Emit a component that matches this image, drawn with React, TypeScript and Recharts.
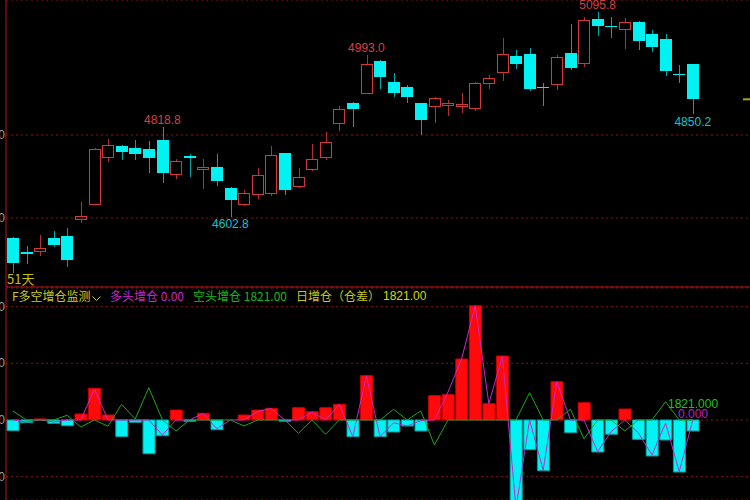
import React from 'react'
import {
  ComposedChart,
  Bar,
  Line,
  XAxis,
  YAxis,
  CartesianGrid,
  ReferenceDot,
  ReferenceLine,
  Cell,
} from 'recharts'

// daily candles, 51 sessions
const openPrices = [
  4551.1, 4518.8, 4521.2, 4551.1, 4556.6, 4596.9, 4633.7, 4746.3, 4772.8, 4768.0,
  4766.3, 4788.0, 4705.3, 4749.4, 4718.8, 4723.6, 4673.0, 4633.7, 4657.8, 4661.0,
  4755.9, 4677.8, 4718.8, 4747.7, 4828.2, 4877.8, 4900.5, 4979.0, 4927.7, 4916.4,
  4876.4, 4869.9, 4873.0, 4869.2, 4864.3, 4924.6, 4952.5, 4991.1, 4994.5, 4916.4,
  4922.2, 4998.3, 4972.8, 5078.8, 5063.4, 5056.1, 5073.0, 5044.1, 5030.6, 4947.0,
  4970.4,
]
const highPrices = [
  4553.0, 4533.3, 4558.3, 4569.4, 4575.9, 4639.3, 4768.0, 4789.6, 4775.9, 4788.0,
  4785.5, 4818.8, 4742.9, 4754.2, 4741.4, 4753.5, 4674.0, 4667.5, 4719.8, 4773.5,
  4756.5, 4719.8, 4778.3, 4808.0, 4869.9, 4879.5, 4993.0, 4980.0, 4950.1, 4920.5,
  4877.0, 4890.8, 4883.6, 4901.9, 4927.0, 4943.9, 5033.0, 5004.8, 5008.9, 4924.6,
  4992.8, 5067.5, 5083.6, 5095.8, 5083.6, 5081.2, 5075.4, 5053.0, 5042.6, 4968.7,
  4971.0,
]
const lowPrices = [
  4467.5, 4489.2, 4509.2, 4530.8, 4481.2, 4588.7, 4632.5, 4734.2, 4739.8, 4739.8,
  4709.2, 4685.1, 4694.7, 4699.5, 4669.9, 4677.8, 4602.8, 4629.6, 4645.1, 4653.0,
  4654.7, 4671.6, 4713.3, 4739.8, 4810.4, 4818.6, 4899.5, 4910.8, 4892.3, 4877.8,
  4800.7, 4828.2, 4845.8, 4853.7, 4858.6, 4910.8, 4930.1, 4959.0, 4906.7, 4870.6,
  4908.4, 4955.9, 4964.6, 5039.3, 5034.5, 5008.0, 5004.8, 5000.7, 4942.2, 4924.6,
  4850.2,
]
const closePrices = [
  4490.8, 4512.5, 4527.0, 4534.9, 4498.8, 4604.8, 4766.3, 4775.9, 4759.0, 4754.9,
  4743.9, 4707.7, 4737.4, 4743.9, 4723.6, 4689.9, 4643.4, 4659.5, 4704.3, 4751.8,
  4666.7, 4698.1, 4742.9, 4783.1, 4861.9, 4863.4, 4970.4, 4940.5, 4900.5, 4892.3,
  4836.1, 4889.2, 4876.4, 4874.0, 4926.0, 4937.3, 4995.2, 4971.1, 4910.1, 4913.3,
  4987.2, 4962.2, 5077.1, 5063.4, 5061.0, 5071.6, 5026.5, 5012.8, 4953.5, 4944.6,
  4886.0,
]

// 日增仓 bars, 多头增仓 (magenta) and 空头增仓 (green) lines
const oiChange = [
  -189, -48, 18, -58, -101, 106, 559, 88, -295, -41,
  -595, -277, 176, -23, 118, -171, 0, 88, 176, 206,
  -23, 217, 146, 217, 277, -295, 782, -295, -212, -106,
  -194, 429, 447, 1076, 2015, 288, 1129, -1553, -524, -895,
  676, -224, 305, -565, -252, 194, -341, -635, -353, -918,
  -194,
]
const longAdd = [
  0, -35, 0, -35, 0, 0, 547, 0, 0, 0,
  0, -265, 0, 0, 115, -154, 0, 0, 150, 203,
  0, 0, 141, 0, 277, -295, 782, -295, -48, -106,
  -12, 0, 494, 1076, 2015, 291, 1121, -1553, 0, -888,
  676, 0, 0, -559, -206, 0, -229, -618, -53, -912,
  0,
]
const shortAdd = [
  159, 0, 0, 0, 83, -124, 0, -111, 277, 18,
  570, 0, -194, 0, 0, 0, 0, -106, 0, 0,
  0, -235, 0, -252, 0, 0, 0, 0, 189, 0,
  159, -441, 0, 0, 0, 0, 0, 0, 482, 0,
  0, 189, -335, 0, 0, -194, 0, 0, 323, 0,
  0,
]

// extremes that carry a price label
const priceMarks: { index: number; kind: 'high' | 'low' }[] = [
  { index: 11, kind: 'high' },
  { index: 16, kind: 'low' },
  { index: 26, kind: 'high' },
  { index: 43, kind: 'high' },
  { index: 50, kind: 'low' },
]

const priceTicks = [4600, 4800]
const oiTicks = [-1000, 0, 1000, 2000]

const periodLabel = '51天'
const indicatorName = 'F多空增仓监测'
const longLabel = '多头增仓'
const longValue = '0.00'
const shortLabel = '空头增仓'
const shortValue = '1821.00'
const dailyLabel = '日增仓（仓差）'
const dailyValue = '1821.00'
const shortEndLabel = '1821.000'
const longEndLabel = '0.000'

const UP = '#d23a3a'
const UP_WICK = '#b43030'
const DOWN = '#00f2f2'
const DOWN_WICK = '#00a6a6'
const GRID = '#8a1212'
const FRAME = '#b01818'
const YELLOW = '#c8c820'
const MAGENTA = '#c828c8'
const GREEN = '#1aa81a'
const NUM_FONT = '"Liberation Sans", Arial, sans-serif'
const CJK_FONT = '"Noto Sans CJK SC", "Liberation Sans", sans-serif'

const candles = openPrices.map((open, i) => ({
  day: i,
  open,
  high: highPrices[i],
  low: lowPrices[i],
  close: closePrices[i],
  range: [lowPrices[i], highPrices[i]],
}))

const flows = oiChange.map((oi, i) => ({
  day: i,
  oi,
  long: longAdd[i],
  short: shortAdd[i],
}))

const lastClose = closePrices[closePrices.length - 1]

const Candle = (props: any) => {
  const { x, y, width, height, payload } = props
  if (!payload) return null
  const { open, close, high, low } = payload
  const top = Math.min(y, y + height)
  const span = Math.abs(height)
  const py = (v: number) => (high === low ? top : top + ((high - v) / (high - low)) * span)
  const cx = Math.round(x + width / 2) + 0.5
  const left = Math.round(x)
  const w = Math.round(width)
  const yHigh = Math.round(top)
  const yLow = Math.round(top + span)
  const bodyTop = Math.round(py(Math.max(open, close)))
  const bodyBot = Math.round(py(Math.min(open, close)))

  if (close >= open) {
    const bodyH = bodyBot - bodyTop
    if (bodyH < 2) {
      return (
        <g>
          <line x1={cx} x2={cx} y1={yHigh} y2={yLow} stroke={UP_WICK} />
          <line x1={left} x2={left + w} y1={bodyTop + 0.5} y2={bodyTop + 0.5} stroke={UP} />
        </g>
      )
    }
    return (
      <g>
        <line x1={cx} x2={cx} y1={yHigh} y2={bodyTop} stroke={UP_WICK} />
        <line x1={cx} x2={cx} y1={bodyBot} y2={yLow} stroke={UP_WICK} />
        <rect x={left + 0.5} y={bodyTop + 0.5} width={w - 1} height={bodyH} fill="none" stroke={UP} />
      </g>
    )
  }
  return (
    <g>
      <line x1={cx} x2={cx} y1={yHigh} y2={yLow} stroke={DOWN_WICK} />
      <rect x={left} y={bodyTop} width={w} height={Math.max(bodyBot - bodyTop, 1)} fill={DOWN} />
    </g>
  )
}

// axis labels sit against the left edge, so only their last digit shows
const EdgeTick = (props: any) => (
  <text
    x={props.x}
    y={props.y}
    dy={4}
    textAnchor="end"
    fill="#9c9c9c"
    fontSize={12}
    fontFamily={NUM_FONT}
  >
    {props.payload.value}
  </text>
)

const LastPriceMark = (props: any) => (
  <line x1={props.x2 - 7} x2={props.x2} y1={props.y1} y2={props.y2} stroke="#a8a800" strokeWidth={2} />
)

const textStyle = (color: string, left: number, top: number, font = CJK_FONT): React.CSSProperties => ({
  position: 'absolute',
  left,
  top,
  color,
  fontSize: 12,
  lineHeight: '12px',
  fontFamily: font,
  whiteSpace: 'nowrap',
})

export default function App() {
  return (
    <div
      style={{
        position: 'fixed',
        left: 0,
        top: 0,
        width: 750,
        height: 500,
        background: '#000',
        overflow: 'hidden',
      }}
    >
      <ComposedChart width={750} height={288} data={candles} margin={{ top: 0, right: 0, bottom: 0, left: 0 }}>
        <CartesianGrid vertical={false} stroke={GRID} strokeDasharray="2 3" />
        <XAxis
          dataKey="day"
          height={1}
          tick={false}
          tickLine={false}
          axisLine={{ stroke: FRAME }}
          padding={{ left: 0, right: 50.4 }}
        />
        <YAxis
          width={6}
          domain={[4433.7, 5125.3]}
          ticks={priceTicks}
          allowDataOverflow
          tickSize={0}
          tickMargin={1}
          tickLine={false}
          axisLine={{ stroke: FRAME }}
          tick={<EdgeTick />}
        />
        <Bar dataKey="range" barSize={12} shape={<Candle />} isAnimationActive={false} />
        {priceMarks.map((m) => {
          const value = m.kind === 'high' ? highPrices[m.index] : lowPrices[m.index]
          return (
            <ReferenceDot
              key={m.index}
              x={m.index}
              y={value}
              r={0}
              fill="none"
              stroke="none"
              label={{
                value: value.toFixed(1),
                position: m.kind === 'high' ? 'top' : 'bottom',
                offset: 3,
                fill: m.kind === 'high' ? '#d84040' : '#1cc0cc',
                fontSize: 12,
                fontFamily: NUM_FONT,
              }}
            />
          )
        })}
        <ReferenceLine y={lastClose} shape={<LastPriceMark />} />
      </ComposedChart>

      <ComposedChart width={750} height={212} data={flows} margin={{ top: 0, right: 0, bottom: 0, left: 0 }}>
        <CartesianGrid vertical={false} stroke={GRID} strokeDasharray="2 3" />
        <XAxis dataKey="day" hide padding={{ left: 0, right: 50.4 }} />
        <YAxis
          width={6}
          domain={[-1412, 2329]}
          ticks={oiTicks}
          allowDataOverflow
          tickSize={0}
          tickMargin={1}
          tickLine={false}
          axisLine={{ stroke: FRAME }}
          tick={<EdgeTick />}
        />
        <Bar dataKey="oi" barSize={12} isAnimationActive={false}>
          {flows.map((d) => (
            <Cell
              key={d.day}
              fill={d.oi >= 0 ? '#ff0a0a' : '#00f4f4'}
              stroke={d.oi >= 0 ? '#d00000' : '#00a0a0'}
            />
          ))}
        </Bar>
        <Line type="linear" dataKey="long" stroke={MAGENTA} strokeWidth={1} dot={false} isAnimationActive={false} />
        <Line type="linear" dataKey="short" stroke={GREEN} strokeWidth={1} dot={false} isAnimationActive={false} />
      </ComposedChart>

      <div style={textStyle('#c8c000', 7, 273, CJK_FONT)}>
        <span style={{ fontSize: 13 }}>{periodLabel}</span>
      </div>

      <div style={textStyle(YELLOW, 12, 290)}>{indicatorName}</div>
      <svg style={{ position: 'absolute', left: 92, top: 296 }} width={9} height={6}>
        <polyline points="0.5,0.5 4.5,4.5 8.5,0.5" fill="none" stroke={YELLOW} />
      </svg>
      <div style={textStyle(MAGENTA, 110, 290)}>
        {longLabel} {longValue}
      </div>
      <div style={textStyle('#18b818', 193, 290)}>
        {shortLabel} {shortValue}
      </div>
      <div style={textStyle(YELLOW, 296, 290)}>{dailyLabel}</div>
      <div style={textStyle('#d8d800', 383, 290, NUM_FONT)}>{dailyValue}</div>

      <div style={textStyle('#20c020', 668, 398, NUM_FONT)}>{shortEndLabel}</div>
      <div style={textStyle('#c020c0', 678, 408, NUM_FONT)}>{longEndLabel}</div>
    </div>
  )
}
